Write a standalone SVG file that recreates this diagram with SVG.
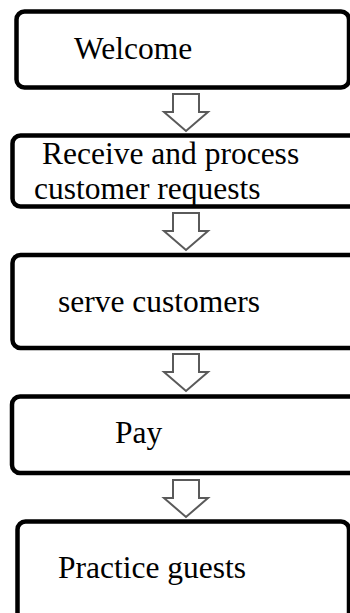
<svg xmlns="http://www.w3.org/2000/svg" xmlns:xlink="http://www.w3.org/1999/xlink" width="350" height="613" viewBox="0 0 350 613">
<style>
.box{fill:#fff;stroke:#000;stroke-width:4.5}
.lbl{font-family:"Liberation Serif","Times New Roman",serif;font-size:31.5px;fill:#000}
.arr{fill:#fff;stroke:#5a5a5a;stroke-width:2;stroke-linejoin:miter}
</style>
<defs>
<path id="blockArrow" d="M173,0 H199 V18 H208 L186,37 L164,18 H173 Z"/>
</defs>
<rect width="350" height="613" fill="#fff"/>
<g id="connectors">
<use xlink:href="#blockArrow" class="arr" transform="translate(0,94)"/>
<use xlink:href="#blockArrow" class="arr" transform="translate(0,213)"/>
<use xlink:href="#blockArrow" class="arr" transform="translate(0,354)"/>
<use xlink:href="#blockArrow" class="arr" transform="translate(0,480)"/>
</g>
<g id="welcome">
<rect class="box" x="16.5" y="11.5" width="332.5" height="76" rx="8"/>
<text class="lbl" x="74" y="59">Welcome</text>
</g>
<g id="receive">
<rect class="box" x="12.5" y="135.5" width="360" height="71" rx="8"/>
<text class="lbl"><tspan x="42" y="164">Receive and process</tspan><tspan x="34" y="199">customer requests</tspan></text>
</g>
<g id="serve">
<rect class="box" x="12.5" y="255" width="360" height="93" rx="8"/>
<text class="lbl" x="58" y="312">serve customers</text>
</g>
<g id="pay">
<rect class="box" x="12" y="396.5" width="360" height="76.5" rx="8"/>
<text class="lbl" x="115" y="443">Pay</text>
</g>
<g id="practice">
<rect class="box" x="17.5" y="521.5" width="331.5" height="120" rx="8"/>
<text class="lbl" x="58" y="578">Practice guests</text>
</g>
</svg>
